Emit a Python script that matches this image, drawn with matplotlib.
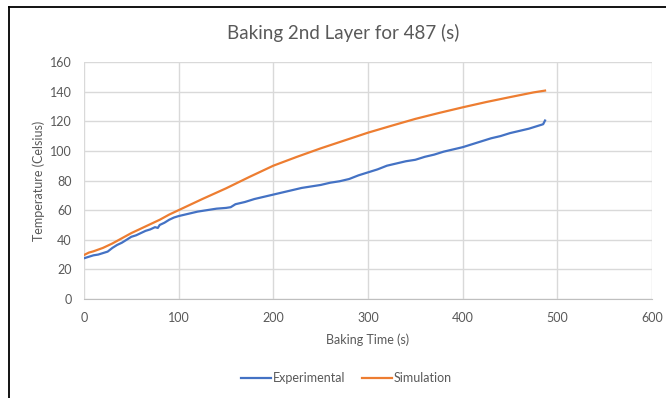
import matplotlib
matplotlib.use('Agg')
import matplotlib.pyplot as plt
from matplotlib.lines import Line2D

plt.rcParams['font.family'] = ['Lato', 'DejaVu Sans']

# Experimental trace
exp_t = [0, 5, 10, 15, 20, 25, 30, 35, 40, 45, 50, 55, 60, 65, 70, 75, 78, 80,
         85, 90, 95, 100, 110, 120, 130, 140, 150, 155, 160, 170, 180, 190, 200,
         210, 220, 230, 240, 250, 260, 270, 280, 290, 300, 310, 320, 330, 340,
         350, 360, 370, 380, 390, 400, 410, 420, 430, 440, 450, 460, 470, 480,
         485, 487]
exp_T = [27.5, 28.5, 29.5, 30, 31, 32, 34.5, 36.5, 38, 40, 42, 43, 44.5, 46, 47,
         48.5, 48, 50, 51.5, 53.5, 55, 56, 57.5, 59, 60, 61, 61.5, 62, 64, 65.5,
         67.5, 69, 70.5, 72, 73.5, 75, 76, 77, 78.5, 79.5, 81, 83.5, 85.5, 87.5,
         90, 91.5, 93, 94, 96, 97.5, 99.5, 101, 102.5, 104.5, 106.5, 108.5, 110,
         112, 113.5, 115, 117, 118, 120.5]

# Simulation curve
sim_t = [0, 5, 10, 20, 30, 40, 50, 60, 70, 80, 90, 100, 125, 150, 175, 200,
         225, 250, 275, 300, 325, 350, 375, 400, 425, 450, 475, 487]
sim_T = [29.7, 31.3, 32.2, 34.5, 37.5, 41, 44.5, 47.5, 50.5, 53.5, 57, 60,
         67.5, 74.7, 82.5, 90, 96, 101.7, 107, 112.3, 117, 121.6, 125.6, 129.4,
         133, 136.3, 139.5, 140.7]

x_ticks = [0, 100, 200, 300, 400, 500, 600]
y_ticks = [0, 20, 40, 60, 80, 100, 120, 140, 160]

fig = plt.figure(figsize=(6.66, 3.98), dpi=100)
ax = fig.add_axes([0.1261, 0.2487, 0.979 - 0.1261, 0.8442 - 0.2487])

ax.plot(exp_t, exp_T, color='#4472C4', lw=1.6, label='Experimental')
ax.plot(sim_t, sim_T, color='#ED7D31', lw=1.6, label='Simulation')

ax.set_xlim(0, 600)
ax.set_ylim(0, 160)
ax.set_xticks(x_ticks)
ax.set_yticks(y_ticks)
ax.grid(True, color='#d9d9d9', lw=1)
ax.set_axisbelow(True)
for s in ['top', 'right', 'left']:
    ax.spines[s].set_visible(False)
ax.spines['bottom'].set_color('#bfbfbf')
ax.tick_params(length=0, colors='#595959', labelsize=9, pad=9)

ax.set_xlabel('Baking Time (s)', fontsize=9, color='#595959', labelpad=7)
ax.set_ylabel('Temperature (Celsius)', fontsize=9, color='#595959', labelpad=3)
fig.text(0.515, 0.917, 'Baking 2nd Layer for 487 (s)', ha='center', va='center',
         fontsize=13.5, color='#595959')

leg = ax.legend(loc='center', bbox_to_anchor=(0.52, 0.05), bbox_transform=fig.transFigure,
                ncol=2, frameon=False, fontsize=9, handlelength=2.4, columnspacing=1.3,
                handletextpad=0.15)
for t in leg.get_texts():
    t.set_color('#595959')

# chart border (top and left edges visible in the reference)
fig.add_artist(Line2D([9 / 666, 1], [1 - 7 / 398, 1 - 7 / 398], color='black', lw=1.3,
                      transform=fig.transFigure))
fig.add_artist(Line2D([9 / 666, 9 / 666], [0, 1 - 7 / 398], color='black', lw=1.3,
                      transform=fig.transFigure))

fig.savefig('out.png', dpi=100)
